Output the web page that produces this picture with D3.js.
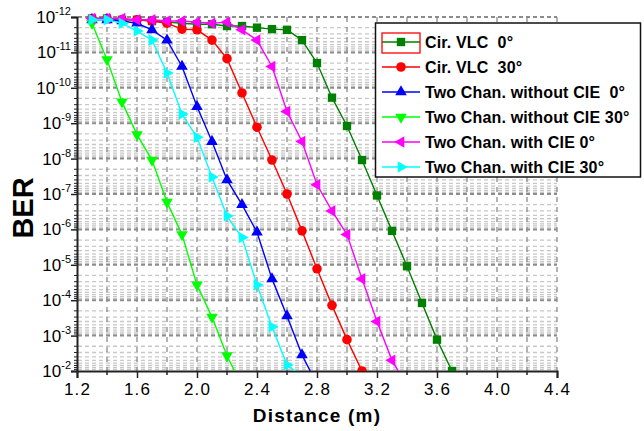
<!DOCTYPE html>
<html lang="en">
  <head>
    <meta charset="UTF-8" />
    <title>BER vs Distance</title>
    <script src="https://d3js.org/d3.v7.min.js"></script>
    <style>
      body {
        margin: 0;
        background: #fff;
      }
      text {
        font-family: "Liberation Sans", Arial, sans-serif;
        fill: #000;
      }
      .grid-minor {
        stroke: #c8c8c8;
        stroke-width: 1.3;
        stroke-dasharray: 4 3;
      }
      .grid-major {
        stroke: #8c8c8c;
        stroke-width: 2;
        stroke-dasharray: 4 3;
      }
      .grid-v {
        stroke: #8c8c8c;
        stroke-width: 1.3;
        stroke-dasharray: 5 5;
      }
      .legend-label {
        white-space: pre;
      }
    </style>
  </head>
  <body>
    <svg id="canvas" width="644" height="431"></svg>

    <script>
      // distances (m), every series starts at 1.3 with a 0.1 step
      const distance = [
        1.3, 1.4, 1.5, 1.6, 1.7, 1.8, 1.9, 2.0, 2.1, 2.2, 2.3, 2.4, 2.5,
        2.6, 2.7, 2.8, 2.9, 3.0, 3.1, 3.2, 3.3, 3.4, 3.5, 3.6, 3.7,
      ];

      // BER values
      const cirVlc0 = [
        1.1e-12, 1.1e-12, 1.2e-12, 1.2e-12, 1.3e-12, 1.4e-12, 1.5e-12,
        1.6e-12, 1.6e-12, 1.8e-12, 1.8e-12, 2.0e-12, 2.2e-12, 2.3e-12,
        4.5e-12, 2.0e-11, 1.9e-10, 1.2e-9, 1.1e-8, 1.1e-7, 1.1e-6, 1.1e-5,
        1.2e-4, 1.3e-3, 1.0e-2,
      ];
      const cirVlc30 = [
        1.1e-12, 1.1e-12, 1.2e-12, 1.2e-12, 1.3e-12, 1.5e-12, 2.2e-12,
        2.3e-12, 4.5e-12, 1.5e-11, 1.4e-10, 1.3e-9, 1.1e-8, 1.0e-7, 1.1e-6,
        1.3e-5, 1.4e-4, 1.3e-3, 1.0e-2,
      ];
      const withoutCie0 = [
        1.2e-12, 1.2e-12, 1.3e-12, 1.5e-12, 2.3e-12, 4.5e-12, 2.5e-11,
        3.4e-10, 3.3e-9, 4.0e-8, 2.0e-7, 1.2e-6, 2.5e-5, 2.8e-4, 3.5e-3,
        2.4e-2,
      ];
      const withoutCie30 = [
        1.5e-12, 1.6e-11, 2.5e-10, 2.1e-9, 1.1e-8, 1.7e-7, 1.4e-6, 3.7e-5,
        3.0e-4, 3.7e-3, 2.7e-2,
      ];
      const withCie0 = [
        1.1e-12, 1.1e-12, 1.1e-12, 1.2e-12, 1.2e-12, 1.3e-12, 1.3e-12,
        1.4e-12, 1.5e-12, 1.4e-12, 2.3e-12, 4.5e-12, 2.5e-11, 4.7e-10,
        3.3e-9, 5.5e-8, 3.0e-7, 1.4e-6, 2.5e-5, 4.0e-4, 5.0e-3, 2.6e-2,
      ];
      const withCie30 = [
        1.2e-12, 1.2e-12, 1.5e-12, 2.5e-12, 4.5e-12, 3.8e-11, 5.5e-10,
        2.5e-9, 3.3e-8, 4.2e-7, 1.7e-6, 3.7e-5, 5.6e-4, 6.8e-3, 1.4e-2,
      ];

      const seriesNames = [
        "Cir. VLC  0°",
        "Cir. VLC  30°",
        "Two Chan. without CIE  0°",
        "Two Chan. without CIE 30°",
        "Two Chan. with CIE 0°",
        "Two Chan. with CIE 30°",
      ];
      const seriesValues = [
        cirVlc0,
        cirVlc30,
        withoutCie0,
        withoutCie30,
        withCie0,
        withCie30,
      ];
      const seriesColors = [
        "#008000",
        "#ff0000",
        "#0000ff",
        "#00ff00",
        "#ff00ff",
        "#00ffff",
      ];
      // marker shape + rotation
      const seriesMarkers = [
        { type: d3.symbolSquare, size: 70, rotate: 0 },
        { type: d3.symbolCircle, size: 72, rotate: 0 },
        { type: d3.symbolTriangle, size: 58, rotate: 0 },
        { type: d3.symbolTriangle, size: 58, rotate: 180 },
        { type: d3.symbolTriangle, size: 58, rotate: -90 },
        { type: d3.symbolTriangle, size: 58, rotate: 90 },
      ];

      const xTicks = [1.2, 1.6, 2.0, 2.4, 2.8, 3.2, 3.6, 4.0, 4.4];
      const xMinorTicks = [1.4, 1.8, 2.2, 2.6, 3.0, 3.4, 3.8, 4.2];
      const yExponents = [-12, -11, -10, -9, -8, -7, -6, -5, -4, -3, -2];

      const plotLeft = 77,
        plotRight = 557,
        plotTop = 17,
        plotBottom = 371;

      const x = d3.scaleLinear().domain([1.2, 4.4]).range([plotLeft, plotRight]);
      const y = d3.scaleLog().domain([1e-12, 1e-2]).range([plotTop, plotBottom]);

      const svg = d3.select("#canvas");

      svg
        .append("defs")
        .append("clipPath")
        .attr("id", "plot-clip")
        .append("rect")
        .attr("x", plotLeft)
        .attr("y", 0)
        .attr("width", plotRight - plotLeft)
        .attr("height", plotBottom);

      // 网格：次刻度横线
      const minorY = [];
      yExponents.slice(0, -1).forEach((e) => {
        for (let m = 2; m <= 9; m++) minorY.push(m * Math.pow(10, e));
      });
      svg
        .append("g")
        .selectAll("line")
        .data(minorY)
        .enter()
        .append("line")
        .attr("class", "grid-minor")
        .attr("x1", plotLeft + 1)
        .attr("x2", plotRight)
        .attr("y1", (d) => y(d))
        .attr("y2", (d) => y(d));

      // 网格：主刻度横线
      svg
        .append("g")
        .selectAll("line")
        .data(yExponents.slice(0, -1))
        .enter()
        .append("line")
        .attr("class", "grid-major")
        .attr("x1", plotLeft + 1)
        .attr("x2", plotRight)
        .attr("y1", (d) => y(Math.pow(10, d)))
        .attr("y2", (d) => y(Math.pow(10, d)));

      // 网格：竖线
      svg
        .append("g")
        .selectAll("line")
        .data(xTicks.slice(1).concat(xMinorTicks))
        .enter()
        .append("line")
        .attr("class", "grid-v")
        .attr("x1", (d) => x(d))
        .attr("x2", (d) => x(d))
        .attr("y1", plotTop)
        .attr("y2", plotBottom);

      // x axis
      const xAxis = svg
        .append("g")
        .attr("transform", `translate(0,${plotBottom})`)
        .call(
          d3
            .axisBottom(x)
            .tickValues(xTicks)
            .tickSize(7)
            .tickPadding(5)
            .tickFormat(d3.format(".1f"))
        );
      xAxis.select(".domain").attr("stroke", "#222").attr("stroke-width", 2);
      xAxis.selectAll(".tick line").attr("stroke", "#222").attr("stroke-width", 1.5);
      xAxis
        .selectAll("text")
        .attr("font-size", 17)
        .attr("letter-spacing", 1.2)
        .attr("fill", "#000")
        .style("font-family", '"Liberation Sans", Arial, sans-serif');

      svg
        .append("g")
        .selectAll("line")
        .data(xMinorTicks)
        .enter()
        .append("line")
        .attr("x1", (d) => x(d))
        .attr("x2", (d) => x(d))
        .attr("y1", plotBottom)
        .attr("y2", plotBottom + 4)
        .attr("stroke", "#222")
        .attr("stroke-width", 1.5);

      // y axis
      const yAxis = svg
        .append("g")
        .attr("transform", `translate(${plotLeft},0)`)
        .call(
          d3
            .axisLeft(y)
            .tickValues(yExponents.map((e) => Math.pow(10, e)))
            .tickSize(6)
            .tickFormat("")
        );
      yAxis.select(".domain").attr("stroke", "#222").attr("stroke-width", 2);
      yAxis.selectAll(".tick line").attr("stroke", "#222").attr("stroke-width", 1.5);

      svg
        .append("g")
        .selectAll("line")
        .data(minorY)
        .enter()
        .append("line")
        .attr("x1", plotLeft - 3)
        .attr("x2", plotLeft)
        .attr("y1", (d) => y(d))
        .attr("y2", (d) => y(d))
        .attr("stroke", "#222")
        .attr("stroke-width", 1);

      // y 刻度标签 10^n
      const yLabels = svg
        .append("g")
        .selectAll("text")
        .data(yExponents)
        .enter()
        .append("text")
        .attr("x", plotLeft - 6)
        .attr("y", (d) => y(Math.pow(10, d)) + 6)
        .attr("text-anchor", "end")
        .attr("font-size", 17);
      yLabels.append("tspan").text("10");
      yLabels
        .append("tspan")
        .attr("dy", -8)
        .attr("font-size", 11)
        .text((d) => "-" + Math.abs(d));

      // axis titles
      svg
        .append("text")
        .attr("x", (plotLeft + plotRight) / 2)
        .attr("y", 422)
        .attr("text-anchor", "middle")
        .attr("font-size", 19)
        .attr("letter-spacing", 1.2)
        .attr("font-weight", "bold")
        .text("Distance (m)");

      svg
        .append("text")
        .attr("transform", "translate(33,208) rotate(-90)")
        .attr("text-anchor", "middle")
        .attr("font-size", 29)
        .attr("font-weight", "bold")
        .text("BER");

      // curves
      const line = d3
        .line()
        .x((d, i) => x(distance[i]))
        .y((d) => y(d));

      const plot = svg.append("g").attr("clip-path", "url(#plot-clip)");

      seriesValues.forEach((values, s) => {
        const g = plot.append("g");
        g.append("path")
          .datum(values)
          .attr("d", line)
          .attr("fill", "none")
          .attr("stroke", seriesColors[s])
          .attr("stroke-width", 1.4);

        const m = seriesMarkers[s];
        g.selectAll("path.marker")
          .data(values)
          .enter()
          .append("path")
          .attr("class", "marker")
          .attr("d", d3.symbol().type(m.type).size(m.size))
          .attr(
            "transform",
            (d, i) => `translate(${x(distance[i])},${y(d)}) rotate(${m.rotate})`
          )
          .attr("fill", seriesColors[s]);
      });

      // legend
      const legend = svg.append("g");
      legend
        .append("rect")
        .attr("x", 375.5)
        .attr("y", 23)
        .attr("width", 265)
        .attr("height", 154)
        .attr("fill", "#fff")
        .attr("stroke", "#111")
        .attr("stroke-width", 1.5);

      seriesNames.forEach((name, s) => {
        const ly = 42 + s * 25;
        legend
          .append("line")
          .attr("x1", 382)
          .attr("x2", 420)
          .attr("y1", ly)
          .attr("y2", ly)
          .attr("stroke", seriesColors[s])
          .attr("stroke-width", 1.4);
        const m = seriesMarkers[s];
        legend
          .append("path")
          .attr("d", d3.symbol().type(m.type).size(m.size))
          .attr("transform", `translate(401,${ly}) rotate(${m.rotate})`)
          .attr("fill", seriesColors[s]);
        legend
          .append("text")
          .attr("class", "legend-label")
          .attr("x", 425)
          .attr("y", ly + 6)
          .attr("font-size", 16)
          .attr("font-weight", "bold")
          .attr("letter-spacing", 0.15)
          .text(name);
      });

      // selection box round the first legend sample
      legend
        .append("rect")
        .attr("x", 382)
        .attr("y", 33)
        .attr("width", 38)
        .attr("height", 20)
        .attr("fill", "none")
        .attr("stroke", "#ff0000")
        .attr("stroke-width", 1.3);
    </script>
  </body>
</html>
